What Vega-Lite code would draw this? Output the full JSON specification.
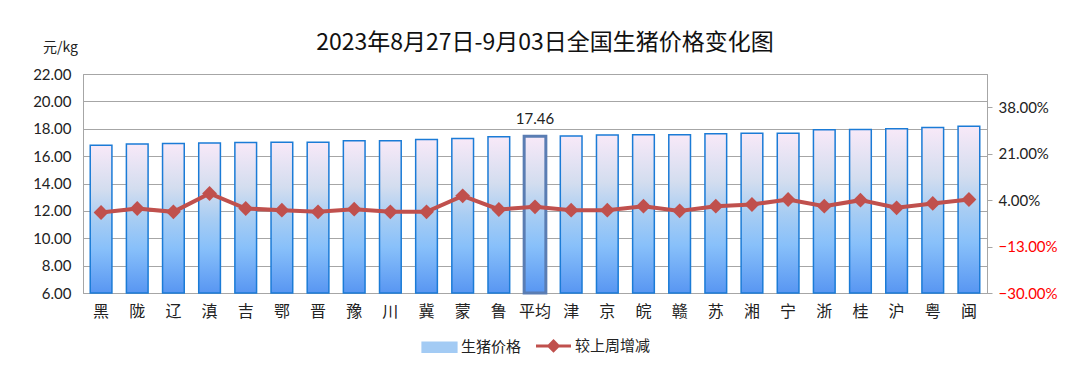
{
  "$schema": "https://vega.github.io/schema/vega-lite/v6.json",
  "width": 904,
  "height": 219,
  "autosize": {"type": "none"},
  "padding": {"left": 83, "top": 74, "right": 93, "bottom": 85},
  "background": "white",
  "title": {
    "text": "2023年8月27日-9月03日全国生猪价格变化图",
    "font": "Noto Sans CJK SC",
    "fontSize": 23,
    "fontWeight": "normal",
    "color": "#111111",
    "anchor": "middle",
    "frame": "group",
    "dx": 10,
    "dy": 35,
    "offset": 20
  },
  "config": {
    "font": "Lato, Noto Sans CJK SC",
    "view": {"stroke": "#A6A6A6", "strokeWidth": 1}
  },
  "data": {
    "values": [
      {"province": "黑", "price": 16.80, "change": -0.52},
      {"province": "陇", "price": 16.88, "change": 0.95},
      {"province": "辽", "price": 16.93, "change": -0.28},
      {"province": "滇", "price": 16.95, "change": 6.45},
      {"province": "吉", "price": 17.00, "change": 0.95},
      {"province": "鄂", "price": 17.02, "change": 0.33},
      {"province": "晋", "price": 17.02, "change": -0.28},
      {"province": "豫", "price": 17.12, "change": 0.70},
      {"province": "川", "price": 17.12, "change": -0.28},
      {"province": "冀", "price": 17.22, "change": -0.28},
      {"province": "蒙", "price": 17.29, "change": 5.58},
      {"province": "鲁", "price": 17.41, "change": 0.58},
      {"province": "平均", "price": 17.46, "change": 1.55},
      {"province": "津", "price": 17.47, "change": 0.33},
      {"province": "京", "price": 17.54, "change": 0.33},
      {"province": "皖", "price": 17.56, "change": 1.80},
      {"province": "赣", "price": 17.56, "change": 0.08},
      {"province": "苏", "price": 17.63, "change": 1.80},
      {"province": "湘", "price": 17.68, "change": 2.40},
      {"province": "宁", "price": 17.68, "change": 4.25},
      {"province": "浙", "price": 17.93, "change": 1.80},
      {"province": "桂", "price": 17.95, "change": 4.00},
      {"province": "沪", "price": 18.00, "change": 1.20},
      {"province": "粤", "price": 18.10, "change": 2.80},
      {"province": "闽", "price": 18.19, "change": 4.25}
    ]
  },
  "encoding": {
    "x": {
      "field": "province",
      "type": "nominal",
      "sort": null,
      "scale": {"paddingInner": 0.4, "paddingOuter": 0.2},
      "axis": {
        "title": null,
        "labelAngle": 0,
        "labelFont": "Noto Sans CJK SC",
        "labelFontSize": 16,
        "labelColor": "#222222",
        "labelPadding": 10,
        "ticks": false,
        "domainColor": "#A6A6A6"
      }
    }
  },
  "layer": [
    {
      "encoding": {
        "y": {
          "field": "price",
          "type": "quantitative",
          "scale": {"domain": [6, 22], "zero": false, "nice": false},
          "axis": {
            "title": "元/kg",
            "titleAngle": 0,
            "titleX": -23,
            "titleY": -27,
            "titleAlign": "center",
            "titleBaseline": "middle",
            "titleFont": "Noto Sans CJK SC",
            "titleFontSize": 14,
            "titleFontWeight": "normal",
            "titleColor": "#222222",
            "values": [6, 8, 10, 12, 14, 16, 18, 20, 22],
            "format": ".2f",
            "labelFontSize": 15,
            "labelColor": "#222222",
            "labelPadding": 12,
            "ticks": false,
            "domainColor": "#A6A6A6",
            "gridColor": "#A6A6A6",
            "gridWidth": 1
          }
        }
      },
      "layer": [
        {
          "mark": {
            "type": "bar",
            "fill": {"gradient": "linear", "x1": 0, "y1": 0, "x2": 0, "y2": 1,
              "stops": [
                {"offset": 0, "color": "#F8E9F8"},
                {"offset": 0.3, "color": "#D3DDEF"},
                {"offset": 0.5, "color": "#A8CDF3"},
                {"offset": 0.7, "color": "#88C0FA"},
                {"offset": 1, "color": "#5896F2"}
              ]}
          },
          "encoding": {
            "y2": {"datum": 6},
            "stroke": {
              "condition": {"test": "datum.province === '平均'", "value": "#5A7DB3"},
              "value": "#1B7BD6"
            },
            "strokeWidth": {
              "condition": {"test": "datum.province === '平均'", "value": 3},
              "value": 1.5
            }
          }
        },
        {
          "transform": [{"filter": "datum.province === '平均'"}],
          "mark": {"type": "text", "baseline": "bottom", "dy": -9, "fontSize": 15, "color": "#222222"},
          "encoding": {
            "text": {"field": "price", "type": "quantitative", "format": ".2f"}
          }
        }
      ]
    },
    {
      "mark": {
        "type": "line",
        "strokeWidth": 4,
        "point": {"shape": "diamond", "size": 220, "filled": true}
      },
      "encoding": {
        "y": {
          "field": "change",
          "type": "quantitative",
          "scale": {"domain": [-30, 50.2], "zero": false, "nice": false},
          "axis": {
            "orient": "right",
            "title": null,
            "values": [-30, -13, 4, 21, 38],
            "labelExpr": "format(datum.value, '.2f') + '%'",
            "labelColor": {"condition": {"test": "datum.value < 0", "value": "#FF0000"}, "value": "#222222"},
            "labelFontSize": 15,
            "labelPadding": 6,
            "grid": false,
            "ticks": true,
            "tickSize": 5,
            "tickColor": "#A6A6A6",
            "domainColor": "#A6A6A6"
          }
        },
        "color": {
          "datum": "较上周增减",
          "type": "nominal",
          "scale": {"domain": ["生猪价格", "较上周增减"], "range": ["#A3CBF4", "#C0504D"]},
          "legend": {
            "title": null,
            "orient": "none",
            "legendX": 349,
            "legendY": 264,
            "direction": "horizontal",
            "padding": 0,
            "labelFont": "Noto Sans CJK SC",
            "labelFontSize": 15,
            "labelColor": "#222222",
            "labelOffset": 14,
            "columnPadding": 8,
            "symbolSize": 1225,
            "encode": {
              "symbols": {
                "update": {
                  "shape": {"signal": "datum.value === '生猪价格' ? 'M-1,-0.3H1V0.3H-1Z' : 'M-1,0H1M0,-0.27L0.27,0L0,0.27L-0.27,0Z'"},
                  "fill": {"signal": "datum.value === '生猪价格' ? {gradient: 'linear', x1: 0, y1: 0, x2: 0, y2: 1, stops: [{offset: 0, color: '#F8E9F8'}, {offset: 0.5, color: '#A8CDF3'}, {offset: 1, color: '#5896F2'}]} : '#C0504D'"},
                  "stroke": {"signal": "datum.value === '生猪价格' ? '#1B7BD6' : '#C0504D'"},
                  "strokeWidth": {"signal": "datum.value === '生猪价格' ? 1.2 : 3"},
                  "opacity": {"value": 1},
                  "fillOpacity": {"value": 1},
                  "strokeOpacity": {"value": 1}
                }
              }
            }
          }
        }
      }
    }
  ],
  "resolve": {"scale": {"y": "independent"}}
}
